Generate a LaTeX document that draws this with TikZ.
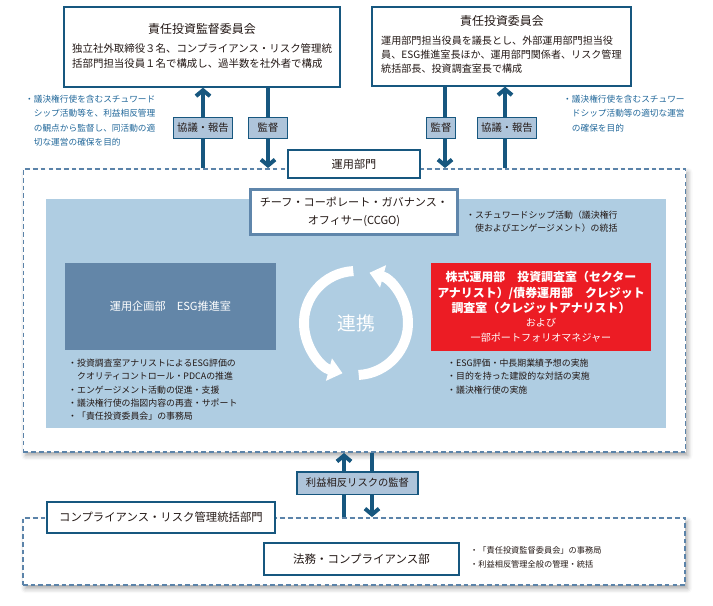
\documentclass[tikz,border=0pt]{standalone}
\usepackage{fontspec}
\setmainfont{Noto Sans CJK JP}
\usetikzlibrary{arrows.meta, shadows.blur}

\definecolor{navy}{HTML}{17577F}
\definecolor{dashblue}{HTML}{5B83A9}
\definecolor{paleblue}{HTML}{AFCDE2}
\definecolor{tagblue}{HTML}{AEC4DA}
\definecolor{deskblue}{HTML}{6386A8}
\definecolor{ccgoblue}{HTML}{5F86AB}
\definecolor{notered}{HTML}{EC1C24}
\definecolor{noteblue}{HTML}{22689A}
\definecolor{ink}{HTML}{231815}

\begin{document}
\begin{tikzpicture}[x=0.03cm, y=-0.03cm, text=ink,
  frame/.style={draw=navy, line width=1.1pt, fill=white, inner sep=0pt},
  tag/.style={draw=navy, line width=0.9pt, fill=tagblue, inner sep=0pt,
    font=\fontsize{8.8}{10}\selectfont},
  area/.style={draw=dashblue, line width=1.6pt, dash pattern=on 4pt off 2.6pt,
    fill=white, inner sep=0pt,
    blur shadow={shadow xshift=2pt, shadow yshift=-3pt, shadow blur radius=4pt,
      shadow opacity=35}},
  flow/.style={draw=navy, line width=4.2pt,
    -{Straight Barb[length=5pt, width=12pt, line width=3.4pt]}},
  notes/.style={align=left, anchor=north west, inner sep=0pt}
]
\useasboundingbox (0,0) rectangle (713,605);

% committees
\node[frame, minimum width=235.6pt, minimum height=68.3pt] (supv) at (202,47) {};
\node[font=\fontsize{10.2}{12}\selectfont] (supvT) at (202,29) {責任投資監督委員会};
\node[notes, font=\fontsize{8.9}{12.8}\selectfont] (supvB) at (72,43)
  {独立社外取締役３名、コンプライアンス・リスク管理統\\
   括部門担当役員１名で構成し、過半数を社外者で構成};

\node[frame, minimum width=221.1pt, minimum height=67.4pt] (comm) at (501.5,46.5) {};
\node[font=\fontsize{10.2}{12}\selectfont] (commT) at (502,21) {責任投資委員会};
\node[notes, font=\fontsize{8.6}{12}\selectfont] (commB) at (381,36)
  {運用部門担当役員を議長とし、外部運用部門担当役\\
   員、ESG推進室長ほか、運用部門関係者、リスク管理\\
   統括部長、投資調査室長で構成};

\node[notes, text=noteblue, font=\fontsize{7.4}{12.2}\selectfont] (noteL) at (25,95)
  {・議決権行使を含むスチュワード\\
   \phantom{・}シップ活動等を、利益相反管理\\
   \phantom{・}の観点から監督し、同活動の適\\
   \phantom{・}切な運営の確保を目的};
\node[notes, text=noteblue, font=\fontsize{7.4}{12.2}\selectfont] (noteR) at (563,95)
  {・議決権行使を含むスチュワー\\
   \phantom{・}ドシップ活動等の適切な運営\\
   \phantom{・}の確保を目的};

% investment division
\node[area, minimum width=565.1pt, minimum height=241.6pt] (ops) at (354.5,310.5) {};
\fill[paleblue] (46,199) rectangle (666,428);
\node[frame, minimum width=112.7pt, minimum height=23.9pt,
  font=\fontsize{9.5}{11}\selectfont] (opsT) at (354,164) {運用部門};

\node[draw=ccgoblue, line width=2.6pt, fill=white, minimum width=177pt,
  minimum height=39pt, align=center, font=\fontsize{9.5}{15}\selectfont]
  (ccgo) at (354,212) {チーフ・コーポレート・ガバナンス・\\オフィサー(CCGO)};
\node[notes, font=\fontsize{7.6}{10.8}\selectfont] (ccgoN) at (466,211)
  {・スチュワードシップ活動（議決権行\\
   \phantom{・}使およびエンゲージメント）の統括};

\node[fill=deskblue, text=white, minimum width=180.1pt, minimum height=74.3pt,
  font=\fontsize{9.5}{11}\selectfont] (plan) at (170.5,306.5) {運用企画部　ESG推進室};
\node[notes, font=\fontsize{7.6}{11.3}\selectfont] (planN) at (68,359)
  {・投資調査室アナリストによるESG評価の\\
   \phantom{・}クオリティコントロール・PDCAの推進\\
   ・エンゲージメント活動の促進・支援\\
   ・議決権行使の指図内容の再査・サポート\\
   ・「責任投資委員会」の事務局};

\node[fill=notered, text=white, minimum width=187.8pt, minimum height=75.1pt,
  align=center, font=\fontsize{10.2}{13.2}\selectfont\bfseries] (desk) at (541,307)
  {株式運用部　投資調査室（セクター\\
   アナリスト）/債券運用部　クレジット\\
   調査室（クレジットアナリスト）\\[-1.5pt]
   {\mdseries\fontsize{8.6}{11}\selectfont および}\\[-0.5pt]
   {\mdseries\fontsize{8.6}{11}\selectfont 一部ポートフォリオマネジャー}};
\node[notes, font=\fontsize{7.6}{11.3}\selectfont] (deskN) at (447,359)
  {・ESG評価・中長期業績予想の実施\\
   ・目的を持った建設的な対話の実施\\
   ・議決権行使の実施};

% cooperation ring
\coordinate (ring) at (356,323);
\draw[white, line width=8.5pt, -{Triangle[width=19pt, length=12pt]}]
  (ring) ++(93:44.4pt) arc[start angle=93, end angle=255, radius=44.4pt];
\draw[white, line width=8.5pt, -{Triangle[width=19pt, length=12pt]}]
  (ring) ++(273:44.4pt) arc[start angle=273, end angle=435, radius=44.4pt];
\node[text=white, font=\fontsize{16}{18}\selectfont] (link) at (ring) {連携};

% compliance
\node[area, minimum width=565.1pt, minimum height=57.2pt] (comp) at (354,551.5) {};
\node[frame, minimum width=194.6pt, minimum height=26.5pt,
  font=\fontsize{9.7}{11}\selectfont] (compT) at (161,517.5)
  {コンプライアンス・リスク管理統括部門};
\node[frame, minimum width=166.5pt, minimum height=27.3pt,
  font=\fontsize{9.8}{11}\selectfont] (legal) at (361.5,559) {法務・コンプライアンス部};
\node[notes, font=\fontsize{7}{12}\selectfont] (legalN) at (470,546)
  {・「責任投資監督委員会」の事務局\\
   ・利益相反管理全般の管理・統括};

% reporting lines
\draw[flow] (ops.north -| 203,0) -- (supv.south -| 203,0);
\draw[flow] (supv.south -| 268,0) -- (ops.north -| 268,0);
\draw[flow] (comm.south -| 445,0) -- (ops.north -| 445,0);
\draw[flow] (ops.north -| 505,0) -- (comm.south -| 505,0);
\draw[flow] (comp.north -| 344,0) -- (ops.south -| 344,0);
\draw[flow] (ops.south -| 372,0) -- (comp.north -| 372,0);

\node[tag, minimum width=50.4pt, minimum height=17.9pt] (t1) at (203,128) {協議・報告};
\node[tag, minimum width=33.3pt, minimum height=17.9pt] (t2) at (268,128) {監督};
\node[tag, minimum width=25pt, minimum height=17.9pt] (t3) at (441,128) {監督};
\node[tag, minimum width=50.4pt, minimum height=17.9pt] (t4) at (507,128) {協議・報告};
\node[tag, minimum width=103.3pt, minimum height=18.8pt] (t5) at (357.5,483) {利益相反リスクの監督};
\end{tikzpicture}
\end{document}
